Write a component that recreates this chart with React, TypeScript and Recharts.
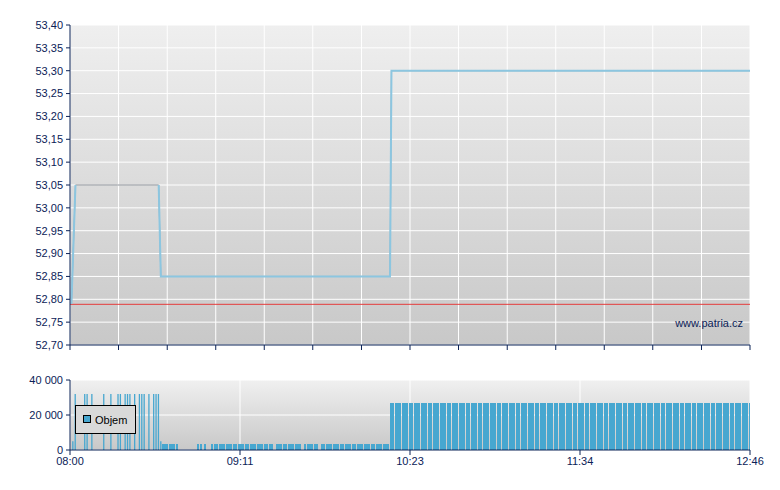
import React from 'react';
import {
  LineChart, Line, ComposedChart, Bar, XAxis, YAxis, CartesianGrid, ReferenceLine,
} from 'recharts';

// ---- data ----
// price path: minutes after 08:00 -> price
const priceTimes = [0.6, 2.3, 20, 37.3, 38.2, 134.6, 135.2, 286];
const priceValues = [52.79, 53.05, 53.05, 53.05, 52.85, 52.85, 53.3, 53.3];
// highlighted (light blue) parts of the price path; null = not highlighted
const priceHighlight = [52.79, 53.05, null, 53.05, 52.85, 52.85, 53.3, 53.3];
const referencePrice = 52.789;

const priceTicks = [52.7, 52.75, 52.8, 52.85, 52.9, 52.95, 53.0, 53.05, 53.1, 53.15, 53.2, 53.25, 53.3, 53.35, 53.4];
const topTimeTicks = [0, 20.4, 40.9, 61.3, 81.7, 102.1, 122.6, 143, 163.4, 183.9, 204.3, 224.7, 245.1, 265.6, 286];

const timeTicks = [0, 71.5, 143, 214.5, 286];
const timeLabels = ['08:00', '09:11', '10:23', '11:34', '12:46'];
const volumeTicks = [0, 20000, 40000];

// minutes of the opening phase drawn as thin spikes
const openingMinutes = 39;

// volume per minute from 08:00 (index = minute)
const volume = [
  0, 5000, 32000, 0, 0, 0, 32000, 32000, 0, 32000,
  0, 0, 0, 0, 32000, 0, 0, 32000, 0, 0,
  32000, 32000, 0, 32000, 32000, 32000, 0, 32000, 0, 32000,
  32000, 32000, 0, 32000, 0, 32000, 32000, 32000, 5000, 3400,
  3400, 3400, 3400, 3400, 3400, 3400, 0, 0, 0, 0,
  0, 0, 0, 0, 3400, 3400, 0, 3400, 0, 0,
  3400, 3400, 3400, 3400, 3400, 3400, 3400, 3400, 3400, 3400,
  3400, 3400, 3400, 3400, 3400, 3400, 3400, 3400, 3400, 3400,
  3400, 3400, 3400, 3400, 3400, 3400, 0, 3400, 3400, 3400,
  3400, 3400, 3400, 3400, 3400, 3400, 3400, 3400, 0, 3400,
  3400, 3400, 3400, 3400, 3400, 0, 3400, 3400, 3400, 3400,
  3400, 3400, 3400, 3400, 3400, 3400, 3400, 3400, 3400, 3400,
  3400, 3400, 3400, 3400, 3400, 3400, 3400, 3400, 3400, 3400,
  3400, 3400, 3400, 3400, 3400, 27000, 27000, 27000, 27000, 27000,
  27000, 27000, 27000, 27000, 27000, 27000, 27000, 27000, 27000, 27000,
  27000, 27000, 27000, 27000, 27000, 27000, 27000, 27000, 27000, 27000,
  27000, 27000, 27000, 27000, 27000, 27000, 27000, 27000, 27000, 27000,
  27000, 27000, 27000, 27000, 27000, 27000, 27000, 27000, 27000, 27000,
  27000, 27000, 27000, 27000, 27000, 27000, 27000, 27000, 27000, 27000,
  27000, 27000, 27000, 27000, 27000, 27000, 27000, 27000, 27000, 27000,
  27000, 27000, 27000, 27000, 27000, 27000, 27000, 27000, 27000, 27000,
  27000, 27000, 27000, 27000, 27000, 27000, 27000, 27000, 27000, 27000,
  27000, 27000, 27000, 27000, 27000, 27000, 27000, 27000, 27000, 27000,
  27000, 27000, 27000, 27000, 27000, 27000, 27000, 27000, 27000, 27000,
  27000, 27000, 27000, 27000, 27000, 27000, 27000, 27000, 27000, 27000,
  27000, 27000, 27000, 27000, 27000, 27000, 27000, 27000, 27000, 27000,
  27000, 27000, 27000, 27000, 27000, 27000, 27000, 27000, 27000, 27000,
  27000, 27000, 27000, 27000, 27000, 27000, 27000, 27000, 27000, 27000,
  27000, 27000, 27000, 27000, 27000, 27000, 27000,
];

const priceData = priceTimes.map((t, i) => ({ t, p: priceValues[i], h: priceHighlight[i] }));
const volData = volume.map((v, i) => ({
  t: i,
  spike: i < openingMinutes && v > 0 ? v : null,
  v: i >= openingMinutes && v > 0 ? v : null,
}));

const NAVY = '#0b2257';
const BAR = '#47a7d0';
const FONT = '"Liberation Sans", Arial, sans-serif';
const tickStyle = { fill: NAVY, fontSize: 11, fontFamily: FONT };

const fmtPrice = (v: number) => v.toFixed(2).replace('.', ',');
const fmtVol = (v: number) => String(v).replace(/\B(?=(\d{3})+(?!\d))/g, ' ');
const fmtTime = (v: number) => {
  const i = timeTicks.indexOf(v);
  return i >= 0 ? timeLabels[i] : '';
};

export default function App() {
  return (
    <div style={{ position: 'absolute', left: 0, top: 0, width: 780, height: 490, background: '#fff', fontFamily: FONT }}>
      <div style={{ position: 'absolute', left: 0, top: 0 }}>
        <LineChart width={780} height={360} data={priceData} margin={{ top: 25, right: 30, bottom: 0, left: 0 }}>
          <defs>
            <linearGradient id="bgTop" x1="0" y1="0" x2="0" y2="1">
              <stop offset="0" stopColor="#efefef" />
              <stop offset="1" stopColor="#c8c8c8" />
            </linearGradient>
          </defs>
          <CartesianGrid stroke="#ffffff" strokeWidth={1} fill="url(#bgTop)" fillOpacity={1} />
          <XAxis
            dataKey="t"
            type="number"
            domain={[0, 286]}
            ticks={topTimeTicks}
            tickFormatter={() => ''}
            height={15}
            tickSize={5}
            axisLine={{ stroke: NAVY }}
            tickLine={{ stroke: NAVY }}
            tick={tickStyle}
            interval={0}
            allowDataOverflow
          />
          <YAxis
            domain={[52.7, 53.4]}
            ticks={priceTicks}
            tickFormatter={fmtPrice}
            width={70}
            tickSize={4}
            tickMargin={3}
            axisLine={{ stroke: NAVY }}
            tickLine={{ stroke: NAVY }}
            tick={tickStyle}
            allowDataOverflow
            interval={0}
          />
          <ReferenceLine y={referencePrice} stroke="#e43b3b" strokeWidth={1} />
          <Line dataKey="p" type="linear" stroke="#8a8f96" strokeWidth={1} dot={false} isAnimationActive={false} />
          <Line dataKey="h" type="linear" connectNulls={false} stroke="#8cc6e0" strokeWidth={2} dot={false} isAnimationActive={false} />
          <text x={743} y={327} textAnchor="end" fill={NAVY} fontSize={11} fontFamily={FONT}>www.patria.cz</text>
        </LineChart>
      </div>
      <div style={{ position: 'absolute', left: 0, top: 360 }}>
        <ComposedChart width={780} height={130} data={volData} margin={{ top: 20, right: 30, bottom: 10, left: 0 }}>
          <defs>
            <linearGradient id="bgBot" x1="0" y1="0" x2="0" y2="1">
              <stop offset="0" stopColor="#f0f0f0" />
              <stop offset="1" stopColor="#c8c8c8" />
            </linearGradient>
          </defs>
          <CartesianGrid stroke="#ffffff" strokeWidth={1} fill="url(#bgBot)" fillOpacity={1} />
          <XAxis
            dataKey="t"
            type="number"
            domain={[0, 286]}
            ticks={timeTicks}
            tickFormatter={fmtTime}
            height={30}
            tickSize={5}
            tickMargin={2}
            axisLine={{ stroke: NAVY }}
            tickLine={{ stroke: NAVY }}
            tick={tickStyle}
            interval={0}
            allowDataOverflow
          />
          <XAxis xAxisId="spk" dataKey="t" type="number" domain={[0, 286]} hide allowDataOverflow />
          <YAxis
            domain={[0, 40000]}
            ticks={volumeTicks}
            tickFormatter={fmtVol}
            width={70}
            tickSize={4}
            tickMargin={3}
            axisLine={{ stroke: NAVY }}
            tickLine={{ stroke: NAVY }}
            tick={tickStyle}
            interval={0}
          />
          <Bar dataKey="v" fill={BAR} barSize={2} shapeRendering="crispEdges" isAnimationActive={false} />
          <Bar xAxisId="spk" dataKey="spike" fill={BAR} barSize={1.3} isAnimationActive={false} />
        </ComposedChart>
      </div>
      <svg width={780} height={490} style={{ position: 'absolute', left: 0, top: 0, pointerEvents: 'none' }}>
        <rect x={75.5} y={405.5} width={60} height={28} fill="#d9d9d9" stroke="#000" strokeWidth={1} />
        <rect x={83.5} y={415.5} width={7} height={7} fill={BAR} stroke="#000" strokeWidth={1} />
        <text x={95} y={424} fill="#000" fontSize={11} fontFamily={FONT}>Objem</text>
      </svg>
    </div>
  );
}
